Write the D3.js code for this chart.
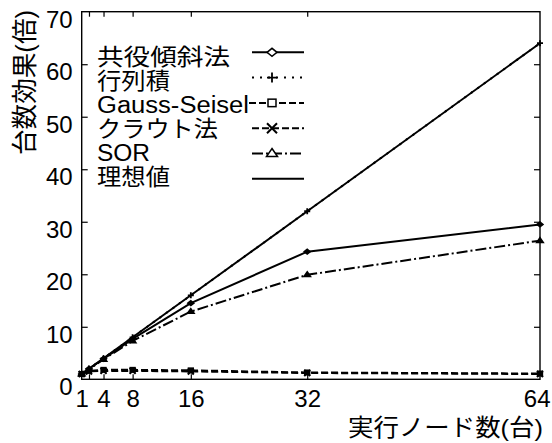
<!DOCTYPE html>
<html><head><meta charset="utf-8">
<script src="https://cdn.jsdelivr.net/npm/d3@7"></script>
<style>
html,body{margin:0;padding:0;background:#fff;}
svg{display:block;}
text{font-family:"Liberation Sans","Noto Sans CJK JP",sans-serif;fill:#000;}
</style></head>
<body>
<svg id="chart" width="552" height="443"></svg>
<script>
// ---- data ----
const nodes = [1, 2, 4, 8, 16, 32, 64];
const cgValues = [1, 2, 3.9, 7.7, 14.5, 24.3, 29.5];       // 共役傾斜法
const matmulValues = [1, 2, 4, 8, 16, 32, 64];               // 行列積
const gaussValues = [1, 1.6, 1.8, 1.8, 1.7, 1.3, 1.1];      // Gauss-Seisel
const croutValues = [1, 1.5, 1.6, 1.6, 1.5, 1.2, 1.0];      // クラウト法
const sorValues = [1, 1.9, 3.8, 7.3, 12.9, 19.9, 26.4];     // SOR
const idealValues = [1, 2, 4, 8, 16, 32, 64];               // 理想値
const seriesNames = ["共役傾斜法", "行列積", "Gauss-Seisel", "クラウト法", "SOR", "理想値"];
const xTickLabels = [1, 4, 8, 16, 32, 64];
const xMinorTicks = [2, 4, 8, 16, 32];
const yTickLabels = [0, 10, 20, 30, 40, 50, 60, 70];
const xAxisTitle = "実行ノード数(台)";
const yAxisTitle = "台数効果(倍)";

// ---- layout ----
const svg = d3.select("#chart");
const L = 81.7, R = 540, T = 11.7, B = 379.3;
const x = d3.scaleLinear().domain([1, 64]).range([L, R]);
const y = d3.scaleLinear().domain([0, 70]).range([B, T]);

const series = [
  {name: seriesNames[0], values: cgValues, dash: null, marker: "diamond"},
  {name: seriesNames[1], values: matmulValues, dash: "2,6", marker: "plus"},
  {name: seriesNames[2], values: gaussValues, dash: "7,3", marker: "square"},
  {name: seriesNames[3], values: croutValues, dash: "7,3", marker: "cross"},
  {name: seriesNames[4], values: sorValues, dash: "11,3,2,3", marker: "triangle"},
  {name: seriesNames[5], values: idealValues, dash: null, marker: null}
];

// frame
svg.append("rect").attr("x", L).attr("y", T).attr("width", R - L).attr("height", B - T)
  .attr("fill", "none").attr("stroke", "#000").attr("stroke-width", 1.4);

// inward ticks via d3 axes
const tickStyle = g => { g.select(".domain").remove(); g.selectAll("line").attr("stroke", "#000").attr("stroke-width", 1.2); g.selectAll("text").remove(); };
svg.append("g").attr("transform", `translate(0,${B})`)
  .call(d3.axisBottom(x).tickValues(xMinorTicks).tickSize(-5)).call(tickStyle);
svg.append("g").attr("transform", `translate(0,${T})`)
  .call(d3.axisTop(x).tickValues(xMinorTicks).tickSize(-5)).call(tickStyle);
svg.append("g").attr("transform", `translate(${L},0)`)
  .call(d3.axisLeft(y).tickValues(yTickLabels.slice(1, -1)).tickSize(-6)).call(tickStyle);
svg.append("g").attr("transform", `translate(${R},0)`)
  .call(d3.axisRight(y).tickValues(yTickLabels.slice(1, -1)).tickSize(-6)).call(tickStyle);

// tick labels
const yAx = svg.append("g").attr("transform", `translate(${L},0)`)
  .call(d3.axisLeft(y).tickValues(yTickLabels).tickSize(0).tickPadding(9));
yAx.select(".domain").remove();
yAx.selectAll("text").attr("font-size", 24).attr("dy", "0.65em")
  .style("font-family", '"Liberation Sans",sans-serif');

const xAx = svg.append("g").attr("transform", `translate(0,${B})`)
  .call(d3.axisBottom(x).tickValues(xTickLabels).tickSize(0).tickPadding(10));
xAx.select(".domain").remove();
xAx.selectAll("text").attr("font-size", 24).attr("dy", "0.75em")
  .style("font-family", '"Liberation Sans",sans-serif');
// keep the last label inside the page edge
xAx.selectAll("text").filter(d => d === 64).attr("text-anchor", "end").attr("dx", 10);

// axis titles
svg.append("text").attr("x", 543).attr("y", 436).attr("text-anchor", "end")
  .attr("font-size", 24).attr("textLength", 195).attr("lengthAdjust", "spacingAndGlyphs")
  .text(xAxisTitle);
svg.append("text").attr("transform", "translate(34,82.5) rotate(-90)").attr("text-anchor", "middle")
  .attr("font-size", 26).attr("textLength", 145).attr("lengthAdjust", "spacingAndGlyphs")
  .text(yAxisTitle);

// markers
function drawMarker(g, type, cx, cy, s, filled) {
  const fill = filled ? "#000" : "#fff";
  const sw = 1.5;
  if (type === "diamond") {
    g.append("path").attr("d", `M${cx - s},${cy}L${cx},${cy - s * 0.8}L${cx + s},${cy}L${cx},${cy + s * 0.8}Z`)
      .attr("fill", fill).attr("stroke", "#000").attr("stroke-width", sw);
  } else if (type === "square") {
    g.append("rect").attr("x", cx - s * 0.8).attr("y", cy - s * 0.75).attr("width", s * 1.6).attr("height", s * 1.5)
      .attr("fill", fill).attr("stroke", "#000").attr("stroke-width", sw);
  } else if (type === "triangle") {
    g.append("path").attr("d", `M${cx},${cy - s}L${cx + s * 1.1},${cy + s * 0.6}L${cx - s * 1.1},${cy + s * 0.6}Z`)
      .attr("fill", fill).attr("stroke", "#000").attr("stroke-width", sw);
  } else if (type === "plus") {
    g.append("path").attr("d", `M${cx - s},${cy}H${cx + s}M${cx},${cy - s}V${cy + s}`)
      .attr("stroke", "#000").attr("stroke-width", sw + 0.3);
  } else if (type === "cross") {
    g.append("path").attr("d", `M${cx - s},${cy - s}L${cx + s},${cy + s}M${cx - s},${cy + s}L${cx + s},${cy - s}`)
      .attr("stroke", "#000").attr("stroke-width", sw + 0.5);
  }
}

// data lines
const line = d3.line().x((d, i) => x(nodes[i])).y(d => y(d));
const plot = svg.append("g");
[...series].reverse().forEach(s => {
  plot.append("path").datum(s.values).attr("d", line)
    .attr("fill", "none").attr("stroke", "#000").attr("stroke-width", 2)
    .attr("stroke-dasharray", s.dash);
});
series.forEach(s => {
  if (!s.marker) return;
  s.values.forEach((v, i) => drawMarker(plot, s.marker, x(nodes[i]), y(v), 3, true));
});

// legend
const legendTextLen = [133, 73, 152, 121, 53, 73];
const leg = svg.append("g");
series.forEach((s, i) => {
  const ly = 52.3 + 25.3 * i;
  const by = 65 + 24 * i;
  leg.append("text").attr("x", 97).attr("y", by).attr("font-size", 23)
    .attr("textLength", legendTextLen[i]).attr("lengthAdjust", "spacingAndGlyphs").text(s.name);
  const x0 = i === 2 ? 249 : 252;
  leg.append("line").attr("x1", x0).attr("x2", 304).attr("y1", ly).attr("y2", ly)
    .attr("stroke", "#000").attr("stroke-width", 2).attr("stroke-dasharray", s.dash);
  if (s.marker) drawMarker(leg, s.marker, 272, ly, 5, false);
});
</script>
</body></html>
